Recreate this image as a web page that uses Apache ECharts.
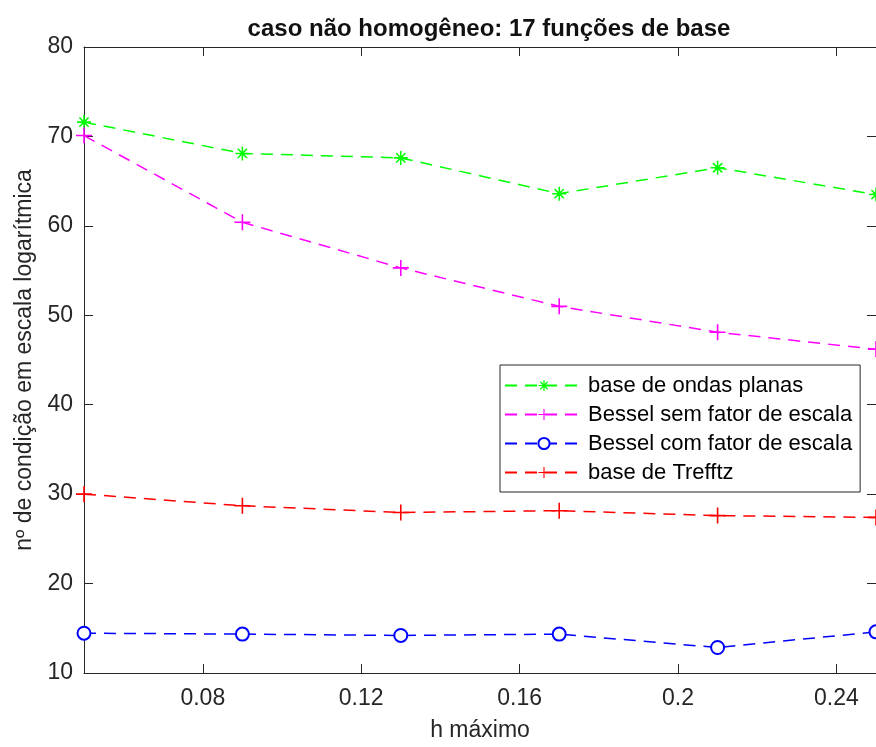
<!DOCTYPE html>
<html>
<head>
<meta charset="utf-8">
<script src="https://cdn.jsdelivr.net/npm/echarts@6/dist/echarts.min.js"></script>
<style>
    html, body { margin: 0; padding: 0; background: #fff; }
    #cn1 { width: 876px; height: 747px; }
</style>
</head>
<body>
<div id="cn1"></div>
<script>
'use strict';

// h máximo values
const arrH = [0.05, 0.09, 0.13, 0.17, 0.21, 0.25];
const arrTickX = [0.08, 0.12, 0.16, 0.2, 0.24];

// series values
const arrOndasPlanas = [71.6, 68.1, 67.6, 63.6, 66.5, 63.5];
const arrBesselSem = [70.1, 60.4, 55.3, 51.0, 48.1, 46.2];
const arrBesselCom = [14.45, 14.35, 14.2, 14.35, 12.85, 14.6];
const arrTrefftz = [30.0, 28.7, 27.95, 28.15, 27.6, 27.4];

const arrNames = [
    'base de ondas planas',
    'Bessel sem fator de escala',
    'Bessel com fator de escala',
    'base de Trefftz'
];

const FONT = '"Liberation Sans", Arial, sans-serif';
const AXIS_COLOR = '#262626';

// marker shapes (MATLAB '*' and '+')
const symStar = 'path://M0,4.45H10V5.55H0Z M4.45,0H5.55V10H4.45Z M1.3,2.1L2.1,1.3L8.7,7.9L7.9,8.7Z M7.9,1.3L8.7,2.1L2.1,8.7L1.3,7.9Z';
const symPlus = 'path://M0,4.5H10V5.5H0Z M4.5,0H5.5V10H4.5Z';

const toPairs = arrY => arrH.map((h, i) => [h, arrY[i]]);

const makeSeries = (name, arrY, color, symbol, size) => {
    return {
        name: name,
        type: 'line',
        data: toPairs(arrY),
        symbol: symbol,
        symbolSize: size,
        showAllSymbol: true,
        color: color,
        itemStyle: { color: color, borderColor: color, borderWidth: symbol === 'emptyCircle' ? 1.3 : 0 },
        lineStyle: { color: color, width: 1.5, type: [12, 8] },
        emphasis: { disabled: true },
        animation: false
    };
};

const boxAxis = (pos) => ({
    axisLine: { show: true, onZero: false, lineStyle: { color: AXIS_COLOR, width: 1 } },
    axisTick: { show: true, inside: true, length: 9, lineStyle: { color: AXIS_COLOR } },
    splitLine: { show: false },
    position: pos
});

const chart = echarts.init(document.getElementById('cn1'), null, { renderer: 'canvas' });

const option = {
    backgroundColor: '#fff',
    animation: false,
    title: {
        text: 'caso não homogêneo: 17 funções de base',
        left: 484,
        textAlign: 'center',
        top: 12,
        textStyle: { fontFamily: FONT, fontSize: 24, fontWeight: 'bold', color: '#111' }
    },
    grid: { left: 84, top: 47, right: -8, bottom: 74, containLabel: false },
    legend: {
        orient: 'vertical',
        left: 500,
        top: 365,
        data: arrNames,
        itemWidth: 78,
        itemHeight: 14,
        itemGap: 0,
        padding: [6, 8, 5, 4],
        borderColor: AXIS_COLOR,
        borderWidth: 1,
        backgroundColor: '#fff',
        selectedMode: false,
        textStyle: { fontFamily: FONT, fontSize: 22, lineHeight: 29, color: '#000' }
    },
    xAxis: [
        Object.assign(boxAxis('bottom'), {
            type: 'value',
            min: 0.05,
            max: 0.25,
            name: 'h máximo',
            nameLocation: 'middle',
            nameGap: 46,
            nameTextStyle: { fontFamily: FONT, fontSize: 23, color: AXIS_COLOR },
            axisTick: { show: true, inside: true, length: 9, customValues: arrTickX, lineStyle: { color: AXIS_COLOR } },
            axisLabel: {
                customValues: arrTickX,
                margin: 14,
                fontFamily: FONT,
                fontSize: 23,
                color: AXIS_COLOR,
                formatter: v => String(+v.toFixed(2))
            }
        }),
        Object.assign(boxAxis('top'), {
            type: 'value',
            min: 0.05,
            max: 0.25,
            axisTick: { show: true, inside: true, length: 9, customValues: arrTickX, lineStyle: { color: AXIS_COLOR } },
            axisLabel: { show: false }
        })
    ],
    yAxis: [
        Object.assign(boxAxis('left'), {
            type: 'value',
            min: 10,
            max: 80,
            interval: 10,
            name: 'nº de condição em escala logarítmica',
            nameLocation: 'middle',
            nameGap: 48,
            nameTextStyle: { fontFamily: FONT, fontSize: 23, color: AXIS_COLOR },
            axisLabel: { margin: 11, fontFamily: FONT, fontSize: 23, color: AXIS_COLOR }
        }),
        Object.assign(boxAxis('right'), {
            type: 'value',
            min: 10,
            max: 80,
            interval: 10,
            axisLabel: { show: false }
        })
    ],
    series: [
        makeSeries(arrNames[0], arrOndasPlanas, '#00ff00', symStar, 14),
        makeSeries(arrNames[1], arrBesselSem, '#ff00ff', symPlus, 16),
        makeSeries(arrNames[2], arrBesselCom, '#0000ff', 'emptyCircle', 13),
        makeSeries(arrNames[3], arrTrefftz, '#ff0000', symPlus, 16)
    ]
};

chart.setOption(option);
</script>
</body>
</html>
